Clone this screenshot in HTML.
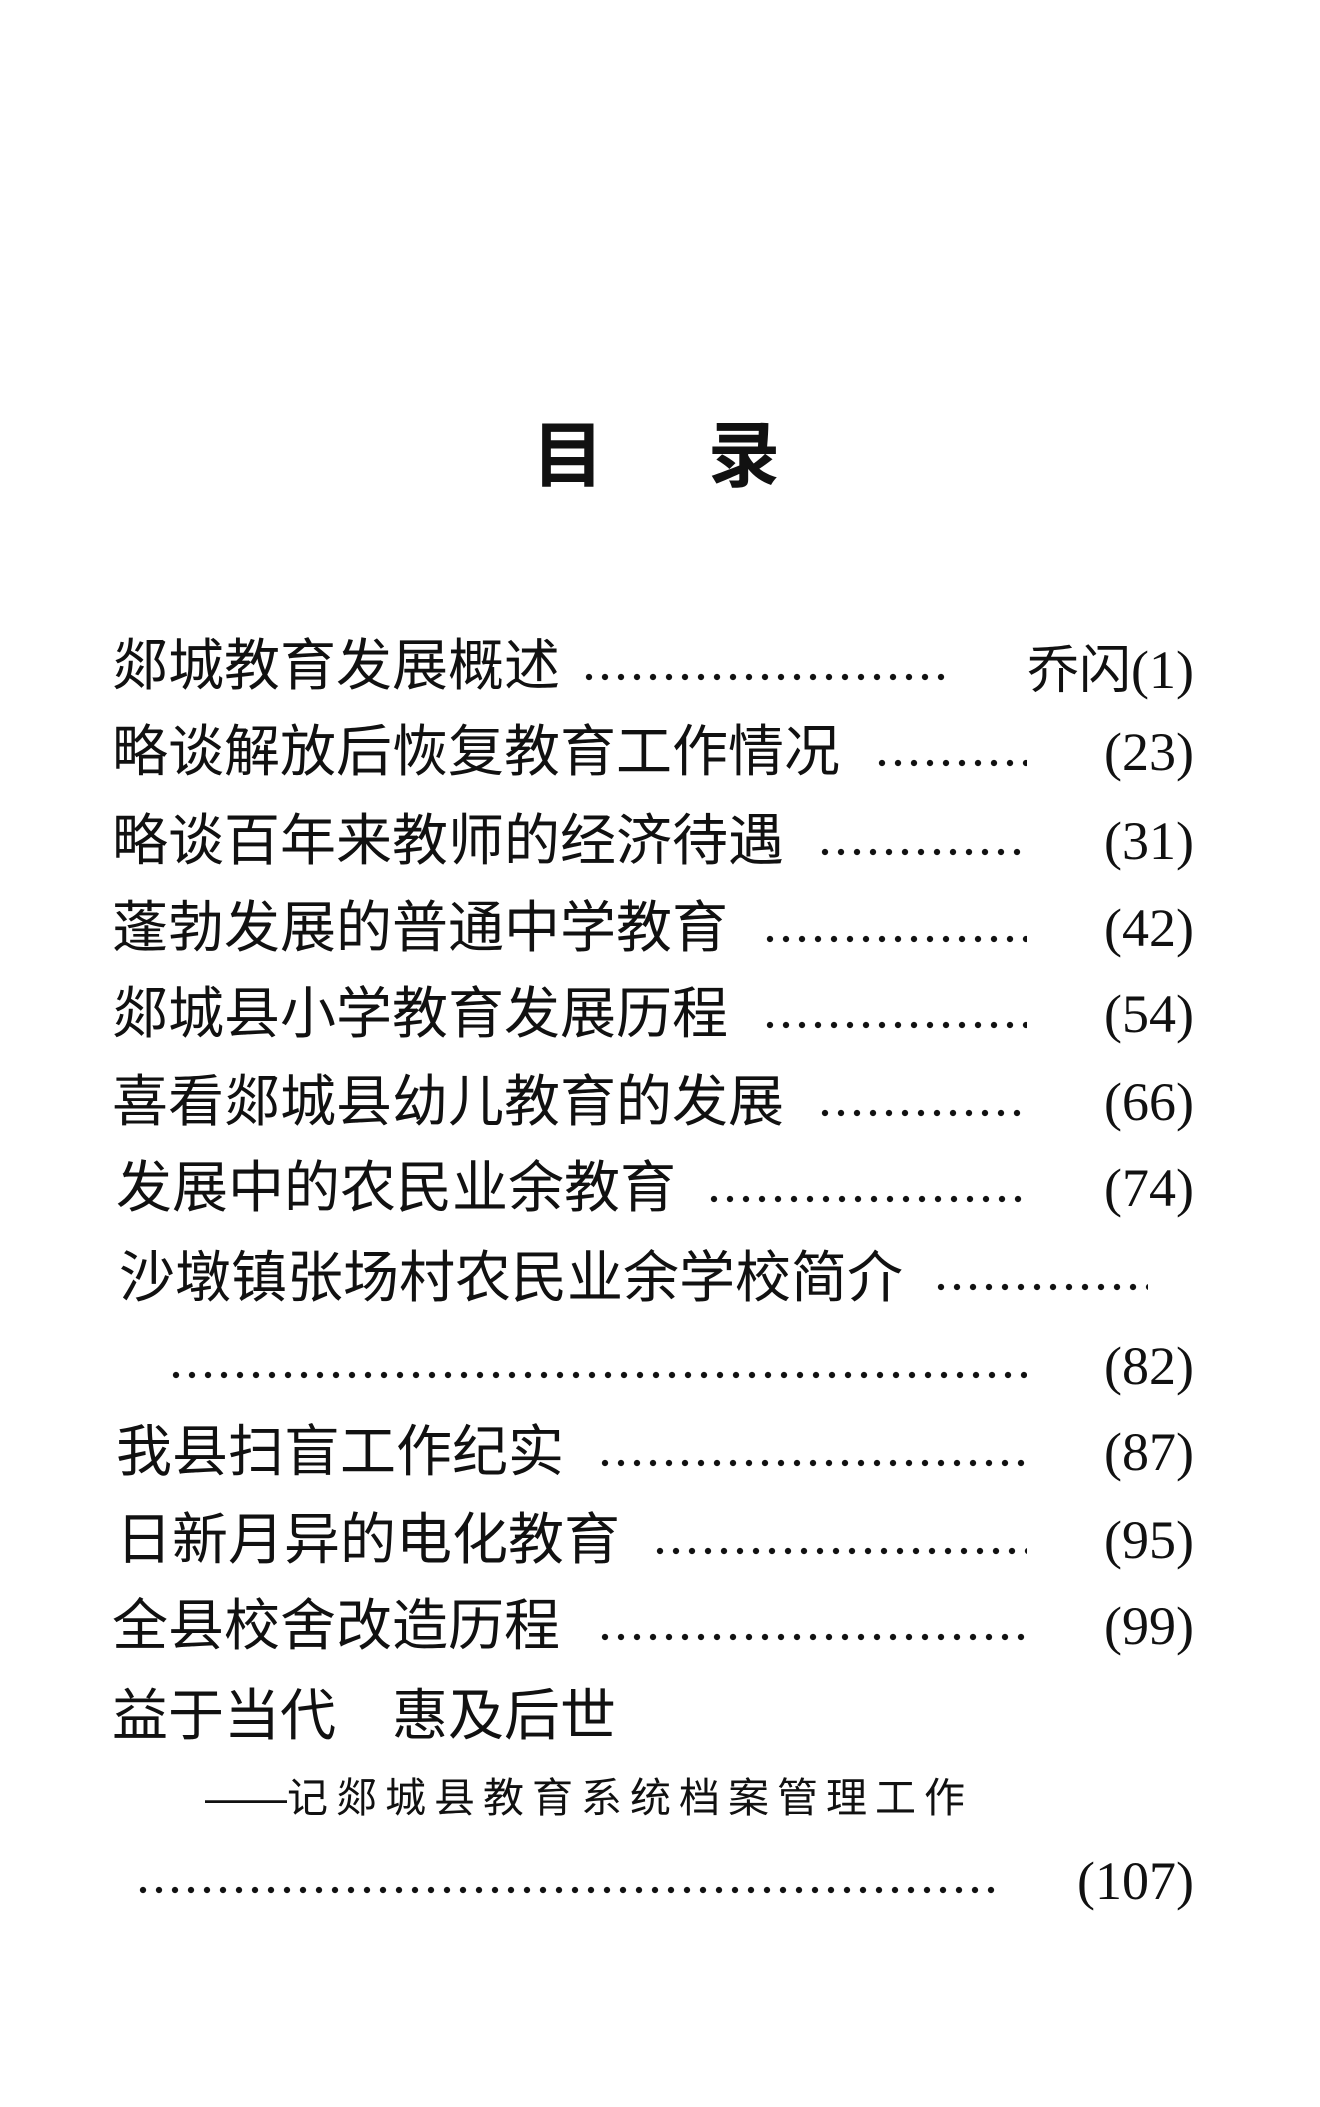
<!DOCTYPE html>
<html><head><meta charset="utf-8"><style>
html,body{margin:0;padding:0;background:#fff;}
body{width:1320px;height:2107px;position:relative;overflow:hidden;font-family:"Liberation Serif","Noto Serif CJK SC","Noto Sans CJK SC",serif;color:#111;}
.t{position:absolute;font-size:56px;line-height:60px;white-space:nowrap;font-family:"Liberation Sans","Noto Sans CJK SC",sans-serif;}
.n{position:absolute;right:126px;font-size:54px;line-height:60px;white-space:nowrap;font-family:"Liberation Serif","Noto Sans CJK SC",serif;}
.d{position:absolute;height:10px;background-image:radial-gradient(circle at 4px 5px,#111 2.8px,transparent 3.4px);background-size:16px 10px;background-repeat:repeat-x;}
</style></head><body>
<div class="t" style="left:532px;top:412px;font-size:72px;line-height:76px;font-weight:bold;font-family:'Noto Sans CJK SC',sans-serif;">目</div>
<div class="t" style="left:708px;top:412px;font-size:72px;line-height:76px;font-weight:bold;font-family:'Noto Sans CJK SC',sans-serif;">录</div>

<div class="t" style="left:112px;top:636px;">郯城教育发展概述</div>
<div class="d" style="left:585px;width:363px;top:672px;"></div>
<div class="n" style="top:636px;"><span style="font-family:'Noto Sans CJK SC',sans-serif;font-size:52px;">乔闪</span>(1)</div>

<div class="t" style="left:112px;top:722px;">略谈解放后恢复教育工作情况</div>
<div class="d" style="left:878px;width:149px;top:758px;"></div>
<div class="n" style="top:722px;">(23)</div>

<div class="t" style="left:112px;top:811px;">略谈百年来教师的经济待遇</div>
<div class="d" style="left:821px;width:206px;top:847px;"></div>
<div class="n" style="top:811px;">(31)</div>

<div class="t" style="left:112px;top:898px;">蓬勃发展的普通中学教育</div>
<div class="d" style="left:766px;width:261px;top:934px;"></div>
<div class="n" style="top:898px;">(42)</div>

<div class="t" style="left:112px;top:984px;">郯城县小学教育发展历程</div>
<div class="d" style="left:766px;width:261px;top:1020px;"></div>
<div class="n" style="top:984px;">(54)</div>

<div class="t" style="left:112px;top:1072px;">喜看郯城县幼儿教育的发展</div>
<div class="d" style="left:821px;width:206px;top:1108px;"></div>
<div class="n" style="top:1072px;">(66)</div>

<div class="t" style="left:116px;top:1158px;">发展中的农民业余教育</div>
<div class="d" style="left:710px;width:317px;top:1194px;"></div>
<div class="n" style="top:1158px;">(74)</div>

<div class="t" style="left:119px;top:1248px;">沙墩镇张场村农民业余学校简介</div>
<div class="d" style="left:937px;width:211px;top:1282px;"></div>

<div class="d" style="left:172px;width:855px;top:1370px;"></div>
<div class="n" style="top:1336px;">(82)</div>

<div class="t" style="left:116px;top:1422px;">我县扫盲工作纪实</div>
<div class="d" style="left:601px;width:426px;top:1458px;"></div>
<div class="n" style="top:1422px;">(87)</div>

<div class="t" style="left:116px;top:1510px;">日新月异的电化教育</div>
<div class="d" style="left:656px;width:371px;top:1546px;"></div>
<div class="n" style="top:1510px;">(95)</div>

<div class="t" style="left:112px;top:1596px;">全县校舍改造历程</div>
<div class="d" style="left:601px;width:426px;top:1632px;"></div>
<div class="n" style="top:1596px;">(99)</div>

<div class="t" style="left:112px;top:1686px;">益于当代　惠及后世</div>

<div class="t" style="left:205px;top:1773px;font-size:41px;line-height:50px;letter-spacing:8px;"><span style="letter-spacing:0">——</span>记郯城县教育系统档案管理工作</div>

<div class="d" style="left:139px;width:860px;top:1885px;"></div>
<div class="n" style="top:1851px;">(107)</div>
</body></html>
